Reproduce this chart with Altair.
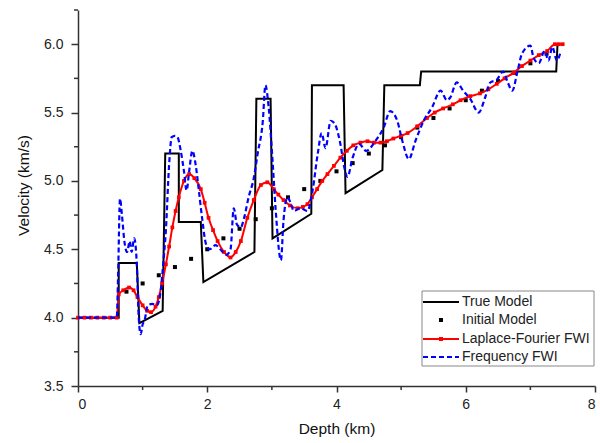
import altair as alt
import pandas as pd

# ---- data ----
true_depth = [0, 0.63, 0.63, 0.91, 0.95, 1.31, 1.35, 1.56, 1.56, 1.9, 1.94, 2.73, 2.76, 2.98,
              3.01, 3.61, 3.62, 4.11, 4.14, 4.71, 4.74, 5.29, 5.31, 7.4, 7.42]
true_vel = [4.0, 4.0, 4.4, 4.4, 3.96, 4.05, 5.2, 5.2, 4.7, 4.7, 4.26, 4.48, 5.6, 5.6,
            4.58, 4.76, 5.7, 5.7, 4.91, 5.08, 5.7, 5.7, 5.8, 5.8, 6.0]

init_depth = [0.75, 1.0, 1.25, 1.5, 1.75, 2.0, 2.25, 2.5, 2.75, 3.0, 3.25, 3.5, 3.75, 4.0,
              4.25, 4.5, 4.75, 5.0, 5.25, 5.5, 5.75, 6.0, 6.25, 6.5, 6.75, 7.0, 7.25]
init_vel = [4.19, 4.25, 4.31, 4.37, 4.43, 4.5, 4.58, 4.65, 4.72, 4.8, 4.88, 4.94, 5.0, 5.07,
            5.13, 5.2, 5.26, 5.32, 5.39, 5.46, 5.53, 5.59, 5.66, 5.73, 5.79, 5.86, 5.93]

lf_depth = [0, 0.1, 0.2, 0.3, 0.4, 0.5, 0.6, 0.63, 0.7, 0.79, 0.86, 0.92, 1.0, 1.07, 1.13,
            1.2, 1.25, 1.3, 1.36, 1.41, 1.46, 1.51, 1.56, 1.64, 1.72, 1.8, 1.9, 1.96, 2.02,
            2.09, 2.16, 2.26, 2.36, 2.44, 2.52, 2.62, 2.72, 2.83, 2.93, 3.03, 3.1, 3.18, 3.28,
            3.4, 3.48, 3.55, 3.62, 3.7, 3.78, 3.86, 3.96, 4.06, 4.16, 4.26, 4.37, 4.48, 4.58,
            4.68, 4.78, 4.88, 5.0, 5.1, 5.25, 5.4, 5.52, 5.65, 5.8, 5.92, 6.07, 6.22, 6.35,
            6.48, 6.6, 6.74, 6.87, 7.0, 7.13, 7.26, 7.38, 7.44, 7.5]
lf_vel = [4.0, 4.0, 4.0, 4.0, 4.0, 4.0, 4.0, 4.17, 4.2, 4.22, 4.2, 4.15, 4.09, 4.05, 4.04,
          4.08, 4.15, 4.25, 4.39, 4.52, 4.66, 4.78, 4.88, 5.0, 5.05, 5.02, 4.94, 4.84, 4.73,
          4.64, 4.56, 4.48, 4.44, 4.48, 4.56, 4.73, 4.86, 4.97, 4.99, 4.94, 4.9, 4.86, 4.82,
          4.8, 4.81, 4.83, 4.88, 4.94, 5.0, 5.05, 5.11, 5.17, 5.22, 5.26, 5.28, 5.29, 5.28,
          5.28, 5.29, 5.31, 5.33, 5.35, 5.4, 5.46, 5.5, 5.53, 5.56, 5.59, 5.62, 5.64, 5.67,
          5.71, 5.75, 5.79, 5.84, 5.88, 5.92, 5.95, 6.0, 6.0, 6.0]

fq_depth = [0, 0.3, 0.6, 0.62, 0.65, 0.68, 0.72, 0.76, 0.8, 0.83, 0.87, 0.91, 0.94, 0.97,
            1.0, 1.03, 1.08, 1.15, 1.22, 1.28, 1.32, 1.36, 1.41, 1.45, 1.5, 1.54, 1.59, 1.64,
            1.68, 1.72, 1.77, 1.82, 1.87, 1.92, 1.98, 2.04, 2.13, 2.2, 2.3, 2.36, 2.41, 2.46,
            2.52, 2.57, 2.64, 2.72, 2.78, 2.86, 2.9, 2.95, 3.01, 3.06, 3.14, 3.18, 3.24, 3.29,
            3.34, 3.44, 3.55, 3.63, 3.71, 3.77, 3.83, 3.91, 3.97, 4.06, 4.12, 4.17, 4.25, 4.35,
            4.46, 4.6, 4.73, 4.83, 4.94, 5.02, 5.12, 5.22, 5.35, 5.48, 5.61, 5.71, 5.76, 5.86,
            5.96, 6.07, 6.2, 6.3, 6.38, 6.48, 6.58, 6.65, 6.72, 6.8, 6.87, 7.0, 7.05, 7.13,
            7.22, 7.28, 7.34, 7.41, 7.46]
fq_vel = [4.0, 4.0, 4.0, 4.3, 4.87, 4.75, 4.55, 4.48, 4.56, 4.48, 4.58, 4.39, 4.0, 3.88,
          3.95, 3.98, 4.09, 4.1, 4.09, 4.2, 4.4, 4.64, 5.12, 5.32, 5.33, 5.32, 5.22, 5.07,
          4.93, 5.07, 5.22, 5.12, 4.93, 4.73, 4.54, 4.5, 4.53, 4.5, 4.46, 4.5, 4.8, 4.68,
          4.66, 4.73, 4.88, 5.02, 5.2, 5.44, 5.7, 5.54, 5.15, 4.78, 4.42, 4.71, 4.88, 4.84,
          4.78, 4.8, 4.78, 4.93, 5.2, 5.35, 5.24, 5.44, 5.42, 5.27, 5.1, 5.03, 5.17, 5.27,
          5.22, 5.29, 5.39, 5.51, 5.44, 5.29, 5.16, 5.29, 5.44, 5.54, 5.66, 5.59, 5.61, 5.72,
          5.66, 5.6, 5.5, 5.61, 5.72, 5.74, 5.8, 5.72, 5.66, 5.8, 5.93, 5.99, 5.9, 5.86,
          5.95, 5.88, 5.98, 5.88, 5.93]

x_major = [0, 2, 4, 6, 8]
x_minor = [1, 3, 5, 7]
y_major = [3.5, 4.0, 4.5, 5.0, 5.5, 6.0]
y_minor = [3.75, 4.25, 4.75, 5.25, 5.75, 6.25]
legend_labels = ["True Model", "Initial Model", "Laplace-Fourier FWI", "Frequency FWI"]

FONT = "Liberation Sans"
AX = "#333333"

df_true = pd.DataFrame({"depth": true_depth, "velocity": true_vel, "i": range(len(true_depth))})
df_init = pd.DataFrame({"depth": init_depth, "velocity": init_vel})
df_lf = pd.DataFrame({"depth": lf_depth, "velocity": lf_vel})
df_fq = pd.DataFrame({"depth": fq_depth, "velocity": fq_vel})
df_xminor = pd.DataFrame({"depth": x_minor})
df_yminor = pd.DataFrame({"velocity": y_minor})
dummy = pd.DataFrame({"k": [0]})

x_enc = alt.X("depth:Q", title="Depth (km)",
              scale=alt.Scale(domain=[0, 8], nice=False, zero=False),
              axis=alt.Axis(values=x_major, format="d", grid=False, tickSize=6, tickWidth=1.5,
                            tickColor=AX, domainColor=AX, domainWidth=1.5,
                            labelFont=FONT, labelFontSize=14, labelColor="#222222", labelPadding=5,
                            titleFont=FONT, titleFontSize=15.5, titleFontWeight="normal",
                            titleColor="#111111", titleBaseline="alphabetic", titleY=47))
y_enc = alt.Y("velocity:Q", title="Velocity (km/s)",
              scale=alt.Scale(domain=[3.5, 6.25], nice=False, zero=False),
              axis=alt.Axis(values=y_major, format=".1f", grid=False, tickSize=7, tickWidth=1.5,
                            tickColor=AX, domainColor=AX, domainWidth=1.5,
                            labelFont=FONT, labelFontSize=14, labelColor="#222222", labelPadding=8,
                            titleFont=FONT, titleFontSize=15.5, titleFontWeight="normal",
                            titleColor="#111111", titleAngle=270, titleAlign="center",
                            titleBaseline="alphabetic", titleX=-50, titleY=175))

true_line = alt.Chart(df_true).mark_line(color="black", strokeWidth=2).encode(
    x=x_enc, y=y_enc, order="i:Q")
init_pts = alt.Chart(df_init).mark_square(color="black", size=16, opacity=1).encode(x=x_enc, y=y_enc)
lf_line = alt.Chart(df_lf).mark_line(color="#ff0000", strokeWidth=2, interpolate="monotone").encode(
    x=x_enc, y=y_enc)
lf_pts = alt.Chart(df_lf).mark_square(color="#ff0000", size=14, opacity=1).encode(x=x_enc, y=y_enc)
fq_line = alt.Chart(df_fq).mark_line(color="#0000ff", strokeWidth=2.2, strokeDash=[5, 3],
                                     interpolate="monotone").encode(x=x_enc, y=y_enc)

xminor = alt.Chart(df_xminor).mark_rule(color=AX, strokeWidth=1.5).encode(
    x=x_enc, y=alt.value(376), y2=alt.value(380))
yminor = alt.Chart(df_yminor).mark_rule(color=AX, strokeWidth=1.5).encode(
    y=y_enc, x=alt.value(-4), x2=alt.value(0))

# ---- legend (chrome) ----
leg_box = alt.Chart(dummy).mark_rect(fill="white", stroke="#888888", strokeWidth=1).encode(
    x=alt.value(344), x2=alt.value(516), y=alt.value(281), y2=alt.value(356))
leg_rows = [292, 310, 329, 347]
leg_true = alt.Chart(dummy).mark_rule(color="black", strokeWidth=2).encode(
    x=alt.value(345), x2=alt.value(381), y=alt.value(leg_rows[0]))
leg_init = alt.Chart(dummy).mark_square(color="black", size=16, opacity=1).encode(
    x=alt.value(363), y=alt.value(leg_rows[1]))
leg_lf = alt.Chart(dummy).mark_rule(color="#ff0000", strokeWidth=2).encode(
    x=alt.value(345), x2=alt.value(381), y=alt.value(leg_rows[2]))
leg_lf_pt = alt.Chart(dummy).mark_square(color="#ff0000", size=16, opacity=1).encode(
    x=alt.value(363), y=alt.value(leg_rows[2]))
leg_fq = alt.Chart(dummy).mark_rule(color="#0000ff", strokeWidth=2.2, strokeDash=[5, 3]).encode(
    x=alt.value(345), x2=alt.value(381), y=alt.value(leg_rows[3]))
leg_texts = [
    alt.Chart(dummy).mark_text(text=lab, align="left", baseline="middle", font=FONT,
                               fontSize=14, color="#222222").encode(
        x=alt.value(384), y=alt.value(yy))
    for lab, yy in zip(legend_labels, leg_rows)
]

chart = alt.layer(
    true_line, init_pts, lf_line, lf_pts, fq_line, xminor, yminor,
    leg_box, leg_true, leg_init, leg_lf, leg_lf_pt, leg_fq, *leg_texts
).properties(
    width=517, height=376,
    padding={"left": 78, "top": 10, "right": 5, "bottom": 57},
    autosize=alt.AutoSizeParams(type="none"),
    background="white",
).configure_view(stroke=None)

chart.save("out.html", embed_options={"renderer": "svg", "actions": False})
